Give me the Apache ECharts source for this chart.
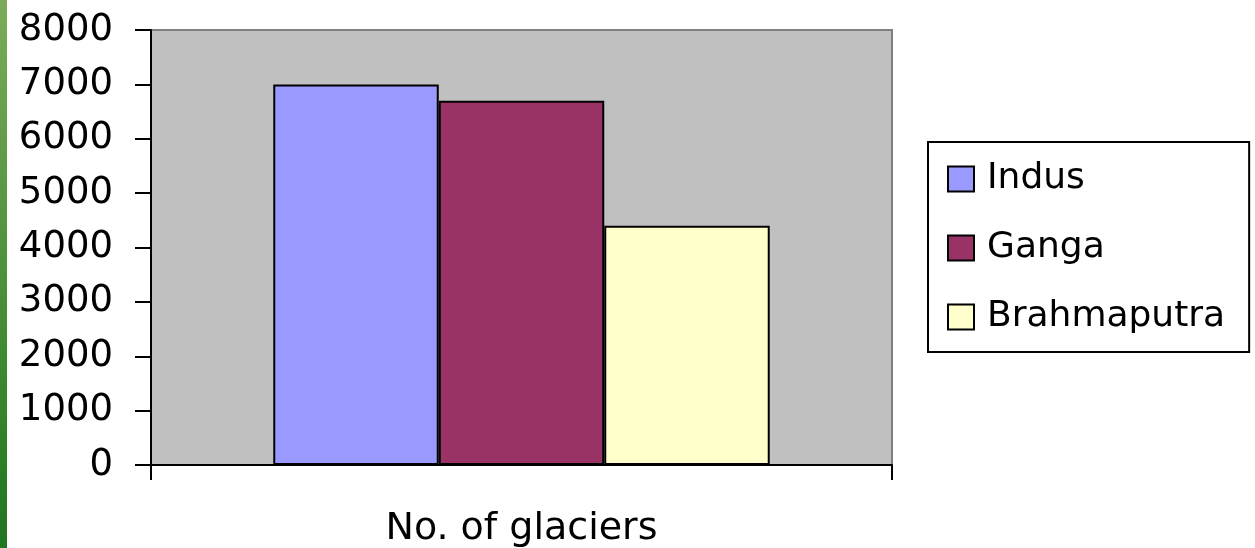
<!DOCTYPE html>
<html>
<head>
<meta charset="utf-8">
<script src="https://cdn.jsdelivr.net/npm/echarts@6/dist/echarts.min.js"></script>
<style>
html,body{margin:0;padding:0;background:#fff;}
#c{width:1255px;height:548px;}
</style>
</head>
<body>
<div id="c"></div>
<script>
const categories = ['No. of glaciers'];
const seriesNames = ['Indus', 'Ganga', 'Brahmaputra'];
const indusValues = [7000];
const gangaValues = [6700];
const brahmaputraValues = [4400];
const yTicks = [0, 1000, 2000, 3000, 4000, 5000, 6000, 7000, 8000];

const colors = ['#9999ff', '#993366', '#ffffcc'];
const values = [indusValues, gangaValues, brahmaputraValues];
const FONT = 'DejaVu Sans';

const chart = echarts.init(document.getElementById('c'), null, {renderer: 'canvas'});
chart.setOption({
  animation: false,
  backgroundColor: '#ffffff',
  graphic: [{
    type: 'rect',
    left: 0, top: 0,
    shape: {width: 7, height: 548},
    style: {
      fill: new echarts.graphic.LinearGradient(0, 0, 0, 1, [
        {offset: 0, color: '#7bab58'},
        {offset: 1, color: '#1e761e'}
      ])
    },
    silent: true
  }],
  grid: {
    left: 151, top: 30, right: 363, bottom: 83,
    show: true,
    backgroundColor: '#c0c0c0',
    borderColor: '#808080',
    borderWidth: 2
  },
  legend: {
    orient: 'vertical',
    left: 928, top: 142,
    padding: [15, 24, 13, 19],
    borderColor: '#000',
    borderWidth: 2,
    backgroundColor: '#fff',
    itemWidth: 26,
    itemHeight: 25,
    itemGap: 25,
    icon: 'rect',
    itemStyle: {borderColor: '#000', borderWidth: 2},
    textStyle: {fontFamily: FONT, fontSize: 36, color: '#000', lineHeight: 44, padding: [0, 0, 0, 8]},
    data: seriesNames
  },
  xAxis: {
    type: 'category',
    data: categories,
    axisLine: {show: true, lineStyle: {color: '#000', width: 2}},
    axisTick: {show: true, length: 15, lineStyle: {color: '#000', width: 2}},
    axisLabel: {fontFamily: FONT, fontSize: 38, color: '#000', margin: 45},
    splitLine: {show: false}
  },
  yAxis: {
    type: 'value',
    min: yTicks[0],
    max: yTicks[yTicks.length - 1],
    interval: yTicks[1] - yTicks[0],
    axisLine: {show: true, lineStyle: {color: '#000', width: 2}},
    axisTick: {show: true, length: 16, lineStyle: {color: '#000', width: 2}},
    axisLabel: {fontFamily: FONT, fontSize: 37, color: '#000', margin: 38, padding: [0, 0, 8, 0],
      formatter: v => String(v)},
    splitLine: {show: false}
  },
  series: seriesNames.map((name, i) => ({
    name: name,
    type: 'bar',
    data: values[i],
    barGap: '0%',
    barCategoryGap: '33%',
    itemStyle: {color: colors[i], borderColor: '#000', borderWidth: 2}
  }))
});
</script>
</body>
</html>
